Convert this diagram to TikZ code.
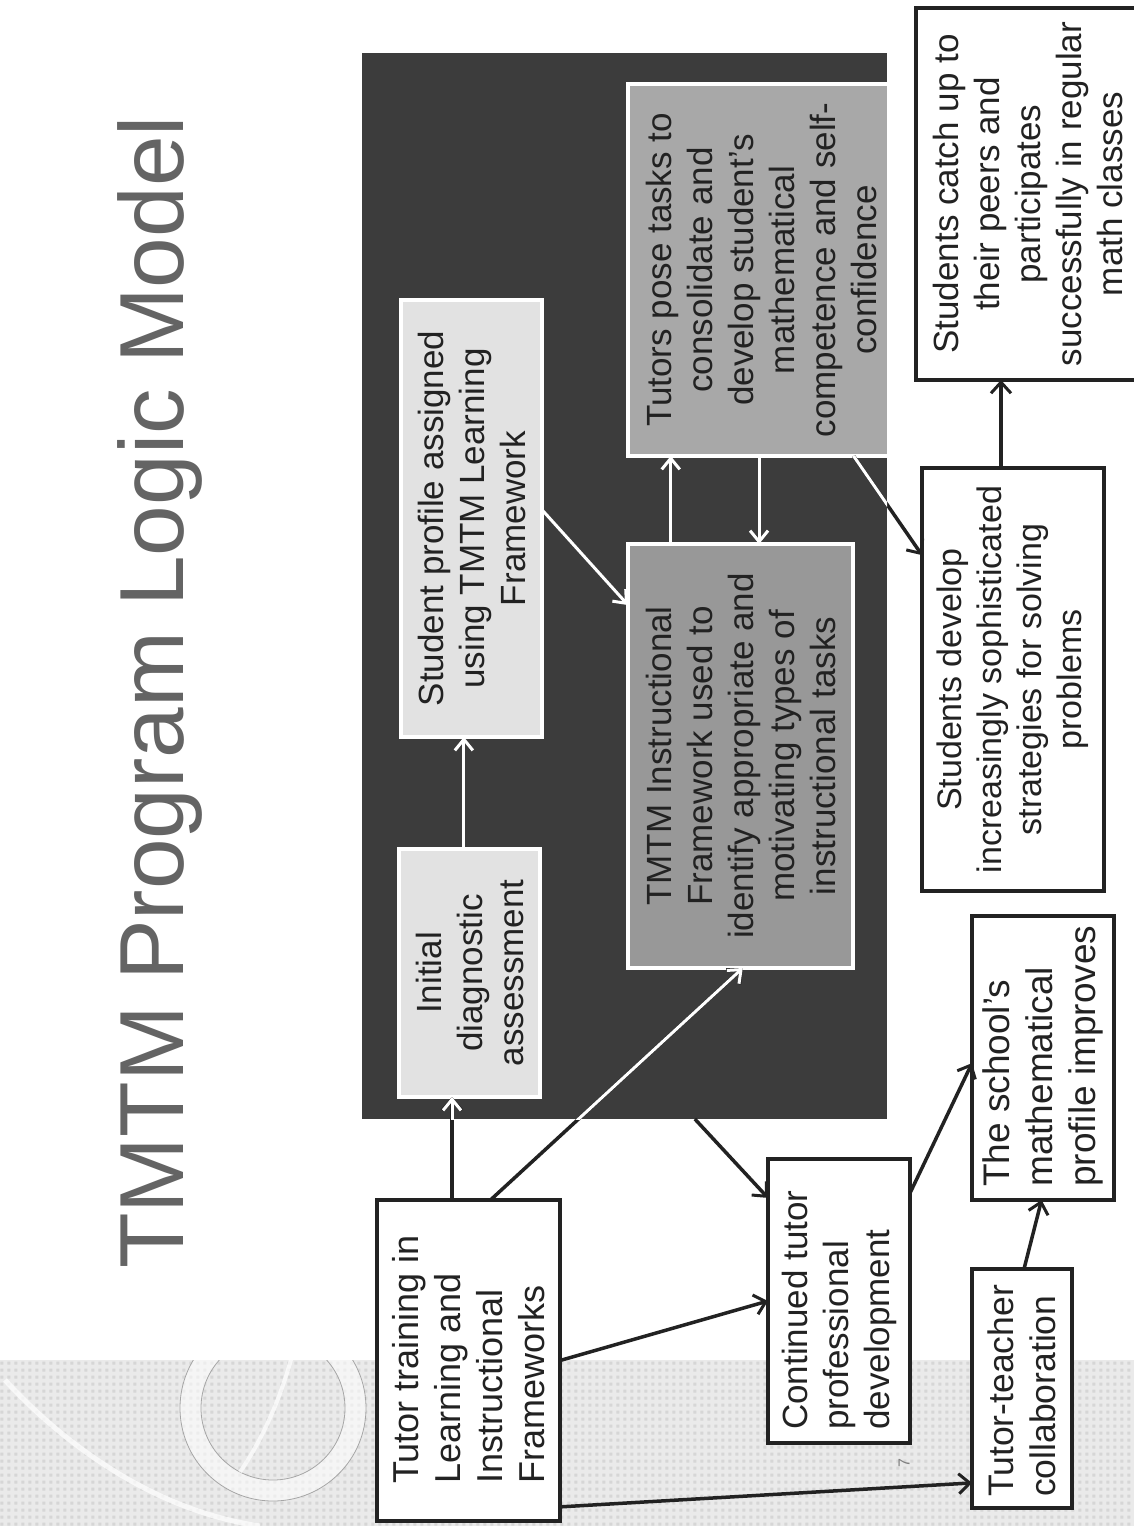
\documentclass[tikz,border=0pt]{standalone}
\usepackage{fontspec}
\setmainfont{Liberation Sans}
\usetikzlibrary{arrows.meta,calc,patterns}
\definecolor{panel}{RGB}{60,60,60}
\definecolor{lightbox}{RGB}{226,226,226}
\definecolor{midbox}{RGB}{168,168,168}
\definecolor{midboxb}{RGB}{152,152,152}
\definecolor{ink}{RGB}{34,34,34}
\definecolor{titlegray}{RGB}{100,100,100}
\definecolor{bandgray}{RGB}{234,234,234}
\definecolor{dotgray}{RGB}{214,214,214}
\pgfdeclarepatternformonly{sqdots}{\pgfpointorigin}{\pgfpoint{7pt}{7pt}}{\pgfpoint{7pt}{7pt}}{\pgfpathrectangle{\pgfpoint{1.5pt}{1.5pt}}{\pgfpoint{3.5pt}{3.5pt}}\pgfusepath{fill}}
\begin{document}
\begin{tikzpicture}[x=1pt,y=-1pt,
  outbox/.style={draw=ink, line width=3.5pt, fill=white, inner sep=0pt, outer sep=0pt, line join=miter},
  inbox/.style={draw=white, line width=3.5pt, inner sep=0pt, outer sep=0pt, line join=miter},
  txt/.style={rotate=90, font=\fontsize{35}{41}\selectfont, text=ink, inner sep=0pt},
  darr/.style={draw=ink, line width=3.5pt, -{Straight Barb[length=11pt,width=20pt,line width=3pt]}},
  warr/.style={draw=white, line width=3pt, -{Straight Barb[length=11pt,width=18pt,line width=3pt]}}
]
\useasboundingbox (0,0) rectangle (1134,1526);
\fill[white] (0,0) rectangle (1134,1526);
% slide decoration band
\fill[bandgray] (0,1360) rectangle (1134,1526);
\fill[pattern=sqdots, pattern color=dotgray] (0,1360) rectangle (1134,1526);
\begin{scope}
\clip (0,1360) rectangle (1134,1526);
\fill[white, opacity=0.55, even odd rule] (273,1408) circle[radius=93] (273,1408) circle[radius=72];
\draw[gray!70, line width=0.8pt] (273,1408) circle[radius=93];
\draw[gray!70, line width=0.8pt] (273,1408) circle[radius=72];
\draw[white, opacity=0.7, line width=5pt] (5,1380) .. controls (60,1440) and (150,1510) .. (260,1526);
\draw[white, opacity=0.7, line width=4pt] (292,1356) .. controls (280,1400) and (262,1440) .. (240,1472);
\end{scope}
% title
\node[rotate=90, anchor=base west, inner sep=0pt, text=titlegray, font=\fontsize{91}{100}\selectfont] (title) at (183,1269) {TMTM Program Logic Model};
% page number
\node[rotate=90, text=gray, inner sep=0pt, font=\fontsize{16}{16}\selectfont] (pg) at (904,1463) {7};
% dark panel
\node[fill=panel, minimum width=525pt, minimum height=1066pt, inner sep=0pt, outer sep=0pt] (pnl) at (624.5,586) {};
% boxes inside panel
\node[inbox, fill=lightbox, minimum width=141pt, minimum height=248pt] (ini) at (469.5,973) {};
\node[inbox, fill=lightbox, minimum width=141pt, minimum height=437pt] (sp) at (471.5,518.5) {};
\node[fill=midbox, minimum width=259pt, minimum height=372pt, inner sep=0pt, outer sep=0pt] (tp) at (757.5,270) {};
\draw[white, line width=3.5pt, line join=miter] (tp.north east) -- (tp.north west) -- (tp.south west) -- (tp.south east);
\node[inbox, fill=midboxb, minimum width=225pt, minimum height=424pt] (ins) at (740.5,756) {};
% boxes outside panel
\node[outbox, minimum width=183pt, minimum height=321pt] (tt) at (468.5,1360.5) {};
\node[outbox, minimum width=142pt, minimum height=284pt] (ct) at (839,1301) {};
\node[outbox, minimum width=100pt, minimum height=239pt] (tc) at (1022,1388.5) {};
\node[outbox, minimum width=142pt, minimum height=284pt] (sch) at (1043,1058) {};
\node[outbox, minimum width=182pt, minimum height=423pt] (sd) at (1013,679.5) {};
\node[outbox, minimum width=224pt, minimum height=372pt] (cu) at (1028,194) {};
% texts
\node[txt, align=center] (tini) at (ini.center) {Initial\\diagnostic\\assessment};
\node[txt, align=center] (tsp) at (sp.center) {Student profile assigned\\using TMTM Learning\\Framework};
\node[txt, align=center] (ttp) at (761,270) {Tutors pose tasks to\\consolidate and\\develop student’s\\mathematical\\competence and self-\\confidence};
\node[txt, align=center] (tins) at (ins.center) {TMTM Instructional\\Framework used to\\identify appropriate and\\motivating types of\\instructional tasks};
\node[txt, align=left, anchor=west, font=\fontsize{36}{42}\selectfont] (ttt) at (468.5,1484) {Tutor training in\\Learning and\\Instructional\\Frameworks};
\node[txt, align=left, anchor=west] (tct) at (839,1430) {Continued tutor\\professional\\development};
\node[txt, align=left, anchor=west, font=\fontsize{35.5}{42}\selectfont] (ttc) at (1022,1497) {Tutor-teacher\\collaboration};
\node[txt, align=left, anchor=west, font=\fontsize{37}{43}\selectfont] (tsch) at (1043,1187) {The school’s\\mathematical\\profile improves};
\node[txt, align=center, font=\fontsize{34}{40}\selectfont] (tsd) at (sd.center) {Students develop\\increasingly sophisticated\\strategies for solving\\problems};
\node[txt, align=center] (tcu) at (1028,194) {Students catch up to\\their peers and\\participates\\successfully in regular\\math classes};
% connector end points
\coordinate (a1s) at ($(tt.north west)!0.41!(tt.north east)$);
\coordinate (a1e) at (a1s |- ini.south);
\coordinate (a2s) at ($(tt.north west)!0.62!(tt.north east)$);
\coordinate (a2e) at ($(ins.south west)!0.51!(ins.south east)$);
\coordinate (a4s) at ($(tt.north east)!0.956!(tt.south east)$);
\coordinate (a4e) at ($(tc.north west)!0.895!(tc.south west)$);
\coordinate (a5s) at ($(pnl.south west)!0.634!(pnl.south east)$);
\coordinate (a5e) at ($(ct.north west)!0.137!(ct.south west)$);
\coordinate (a6s) at ($(ct.north east)!0.12!(ct.south east)$);
\coordinate (a6e) at ($(sch.north west)!0.518!(sch.south west)$);
\coordinate (a7s) at ($(tc.north west)!0.52!(tc.north east)$);
\coordinate (a7e) at ($(sch.south west)!0.49!(sch.south east)$);
\coordinate (a8s) at ($(ini.north west)!0.46!(ini.north east)$);
\coordinate (a8e) at (a8s |- sp.south);
\coordinate (a9s) at ($(sp.north east)!0.48!(sp.south east)$);
\coordinate (a9e) at ($(ins.north west)!0.144!(ins.south west)$);
\coordinate (a10s) at ($(ins.north west)!0.19!(ins.north east)$);
\coordinate (a10e) at (a10s |- tp.south);
\coordinate (a11s) at ($(tp.south west)!0.506!(tp.south east)$);
\coordinate (a11e) at (a11s |- ins.north);
\coordinate (a12s) at ($(tp.south west)!0.871!(tp.south east)$);
\coordinate (a12e) at ($(sd.north west)!0.206!(sd.south west)$);
\coordinate (a13s) at ($(sd.north west)!0.434!(sd.north east)$);
\coordinate (a13e) at (a13s |- cu.south);
% dark connectors
\draw[darr] (a1s) -- (a1e);
\draw[darr] (a2s) -- (a2e);
\draw[darr] (tt.east) -- (ct.west);
\draw[darr] (a4s) -- (a4e);
\draw[darr] (a5s) -- (a5e);
\draw[darr] (a6s) -- (a6e);
\draw[darr] (a7s) -- (a7e);
\draw[darr] (a12s) -- (a12e);
\draw[darr] (a13s) -- (a13e);
% white parts inside the panel
\begin{scope}
\clip (pnl.north west) rectangle (pnl.south east);
\draw[warr] (a1s) -- (a1e);
\draw[warr] (a2s) -- (a2e);
\draw[draw=white, line width=3pt] (a12s) -- (a12e);
\end{scope}
\draw[warr] (a8s) -- (a8e);
\draw[warr] (a9s) -- (a9e);
\draw[warr] (a10s) -- (a10e);
\draw[warr] (a11s) -- (a11e);
\end{tikzpicture}
\end{document}
